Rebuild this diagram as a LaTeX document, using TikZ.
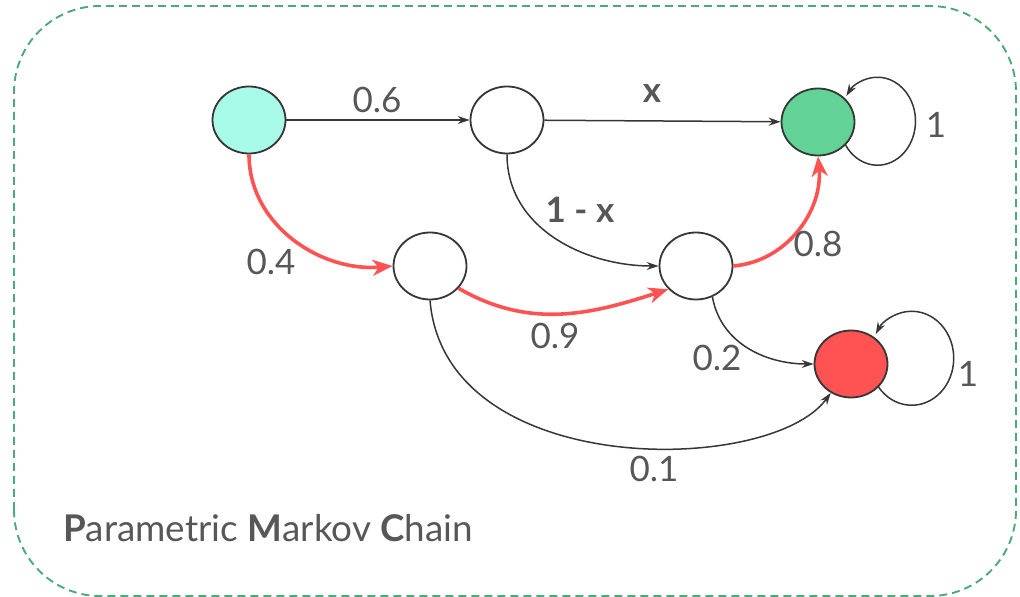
\documentclass[tikz,border=0pt]{standalone}
\usepackage{fontspec}
\setmainfont{Lato}
\usetikzlibrary{arrows.meta,shapes.geometric}
\definecolor{ink}{HTML}{363636}
\definecolor{txt}{HTML}{575757}
\definecolor{mint}{HTML}{A8FBE9}
\definecolor{leaf}{HTML}{62D296}
\definecolor{alarm}{HTML}{FF5252}
\definecolor{hot}{HTML}{FF5353}
\definecolor{frame}{HTML}{4DAA78}

\begin{document}
\begin{tikzpicture}[x=1pt,y=1pt,
  state/.style={ellipse, draw=ink, line width=1.8pt, minimum width=73pt, minimum height=67pt, inner sep=0pt},
  flow/.style={draw=ink, line width=1.5pt, -{Stealth[length=12pt,width=8pt,inset=4pt]}},
  hotflow/.style={draw=hot, line width=3.6pt, -{Stealth[length=20pt,width=16pt,inset=6pt]}},
  prob/.style={text=txt, font=\fontsize{35}{40}\selectfont, inner sep=0pt},
  bprob/.style={prob, font=\fontsize{35}{40}\selectfont\bfseries}]
\useasboundingbox (0,0) rectangle (1020,597);

% dashed outer frame
\draw[frame, line width=1.9pt, dash pattern=on 8pt off 5pt, rounded corners=86pt]
  (14,1) rectangle (1016,591);

% states
\node[state, fill=mint]  (A) at (249,477) {};
\node[state, fill=white] (B) at (507,477) {};
\node[state, fill=leaf]  (G) at (818,475) {};
\node[state, fill=white] (C) at (430,331) {};
\node[state, fill=white] (D) at (696,331) {};
\node[state, fill=alarm] (R) at (851,233) {};

% transitions
\draw[flow] (A) -- (B);
\draw[flow] (B) -- (G);
\draw[flow] (B.south) to[out=-90, in=180] (D.west);
\draw[flow] (D.-62) to[out=-80, in=180] (R.west);
\draw[flow] (C.south) .. controls +(15,-180) and +(-60,-83) .. (R.-125);
\draw[hotflow] (A.south) to[out=-90, in=185] (C.west);
\draw[hotflow] (C.-38) to[out=-30, in=198] (D.-140);
\draw[hotflow] (D.east) to[out=5, in=-85] (G.south);

% self loops
\draw[flow] (G.-40) arc[start angle=213, end angle=505, x radius=38, y radius=44];
\draw[flow] (R.-40) arc[start angle=218, end angle=509, x radius=42, y radius=47];

% probabilities
\node[prob]  (pAB) at (377,497) {0.6};
\node[bprob] (pBG) at (652,503) {x};
\node[bprob] (pBD) at (580,387) {1 - x};
\node[prob]  (pAC) at (271,335) {0.4};
\node[prob]  (pCD) at (555,261) {0.9};
\node[prob]  (pDG) at (818,353) {0.8};
\node[prob]  (pDR) at (717,239) {0.2};
\node[prob]  (pCR) at (654,128) {0.1};
\node[prob]  (pGG) at (936,472) {1};
\node[prob]  (pRR) at (968,223) {1};

% caption
\node[prob, anchor=base west, font=\fontsize{36.8}{42}\selectfont] (title) at (63,55)
  {\textbf{P}arametric \textbf{M}arkov \textbf{C}hain};
\end{tikzpicture}
\end{document}
